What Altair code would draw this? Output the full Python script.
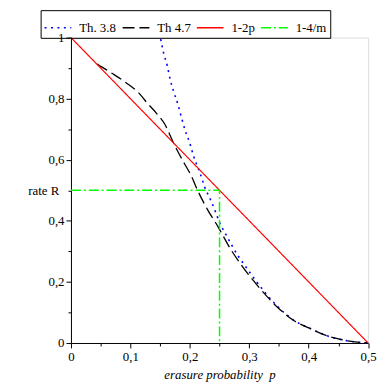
import altair as alt
import pandas as pd

# Th. 3.8 (blue dotted)
p_th38 = [0.151, 0.156, 0.162, 0.167, 0.173, 0.180, 0.186, 0.192, 0.200, 0.206,
          0.218, 0.225, 0.235, 0.243, 0.250, 0.263, 0.283, 0.291, 0.305, 0.313,
          0.347, 0.374, 0.402, 0.435, 0.458, 0.500]
r_th38 = [0.995, 0.948, 0.908, 0.862, 0.822, 0.781, 0.738, 0.697, 0.654, 0.614,
          0.552, 0.511, 0.468, 0.430, 0.395, 0.347, 0.280, 0.258, 0.220, 0.199,
          0.121, 0.076, 0.048, 0.021, 0.0097, 0.0]

# Th 4.7 (black dashed)
p_th47 = [0.044, 0.069, 0.097, 0.114, 0.128, 0.144, 0.158, 0.172, 0.191, 0.202,
          0.213, 0.230, 0.247, 0.269, 0.288, 0.316, 0.347, 0.374, 0.402, 0.435,
          0.458, 0.500]
r_th47 = [0.913, 0.883, 0.846, 0.819, 0.786, 0.752, 0.716, 0.657, 0.587, 0.549,
          0.500, 0.436, 0.382, 0.306, 0.252, 0.183, 0.118, 0.0745, 0.0476, 0.0207,
          0.0097, 0.0]

# 1-2p (red)
p_lin = [0.0, 0.5]
r_lin = [1.0, 0.0]

# 1-4/m (green dash-dot)
p_m = [0.0, 0.25, 0.25]
r_m = [0.5, 0.5, 0.0]

names = ["Th. 3.8", "Th 4.7", "1-2p", "1-4/m"]
colors = ["#0000ff", "#000000", "#ff0000", "#00ff00"]
dashes = [[2, 4.5], [12, 5], [1, 0], [10, 3, 2, 3]]

x_ticks = [round(i * 0.05, 2) for i in range(11)]
y_ticks = [round(i * 0.1, 1) for i in range(11)]

FONT = "Liberation Serif"

xaxis = alt.Axis(
    values=x_ticks,
    labelExpr="round(datum.value*100) % 10 == 0 ? (datum.value == 0 ? '0' : replace(format(datum.value, '.1f'), '.', ',')) : ''",
    tickSize={"condition": {"test": "round(datum.value*100) % 10 == 0", "value": 5}, "value": 3},
    title="erasure probability\u00a0 p",
    titleFont=FONT,
    labelFont=FONT,
    titleFontStyle="italic",
    titleFontWeight="normal",
    titleFontSize=13,
    titleY=32,
    titleBaseline="middle",
    labelFontSize=13,
    labelPadding=3,
    grid=False,
    domainColor="black",
    tickColor="black",
    labelColor="black",
    titleColor="black",
    labelFlush=False,
)
yaxis = alt.Axis(
    values=y_ticks,
    labelExpr="round(datum.value*10) % 2 == 0 ? (datum.value == 0 ? '0' : (datum.value == 1 ? '1' : replace(format(datum.value, '.1f'), '.', ','))) : ''",
    tickSize={"condition": {"test": "round(datum.value*10) % 2 == 0", "value": 5}, "value": 3},
    title="rate R",
    titleFont=FONT,
    labelFont=FONT,
    titleAngle=0,
    titleFontWeight="normal",
    titleFontSize=13,
    titleX=-43.7,
    titleY=154.5,
    titleAlign="left",
    titleBaseline="middle",
    labelFontSize=13,
    labelPadding=2,
    grid=False,
    domainColor="black",
    tickColor="black",
    labelColor="black",
    titleColor="black",
    labelFlush=False,
)

xs = alt.Scale(domain=[0, 0.5], nice=False, zero=False)
ys = alt.Scale(domain=[0, 1], nice=False, zero=False)

leg = alt.Legend(
    title=None,
    orient="none",
    direction="horizontal",
    legendX=-30.7,
    legendY=-27.7,
    symbolType="stroke",
    symbolSize=729,
    symbolStrokeWidth=1.5,
    labelFont=FONT,
    labelFontSize=13,
    labelOffset=7,
    columnPadding=3,
    strokeColor="black",
    padding=3,
    labelColor="black",
    columns=4,
)


def layer(p, r, name, width, interp):
    df = pd.DataFrame({"p": p, "R": r, "i": list(range(len(p))), "s": name})
    return alt.Chart(df).mark_line(strokeWidth=width, interpolate=interp).encode(
        x=alt.X("p:Q", scale=xs, axis=xaxis),
        y=alt.Y("R:Q", scale=ys, axis=yaxis),
        color=alt.Color("s:N", scale=alt.Scale(domain=names, range=colors), legend=leg),
        strokeDash=alt.StrokeDash("s:N", scale=alt.Scale(domain=names, range=dashes), legend=leg),
        order=alt.Order("i:Q"),
    )


chart = alt.layer(
    layer(p_th38, r_th38, names[0], 1.6, "monotone"),
    layer(p_th47, r_th47, names[1], 1.3, "monotone"),
    layer(p_lin, r_lin, names[2], 1.2, "linear"),
    layer(p_m, r_m, names[3], 1.5, "linear"),
).properties(
    width=300.6,
    height=309,
    autosize=alt.AutoSizeParams(type="none"),
    padding={"left": 63.7, "top": 27.7, "right": 10, "bottom": 41},
).configure_view(stroke=None).configure(font=FONT)

chart.save("out.html", embed_options={"renderer": "svg", "actions": False})
